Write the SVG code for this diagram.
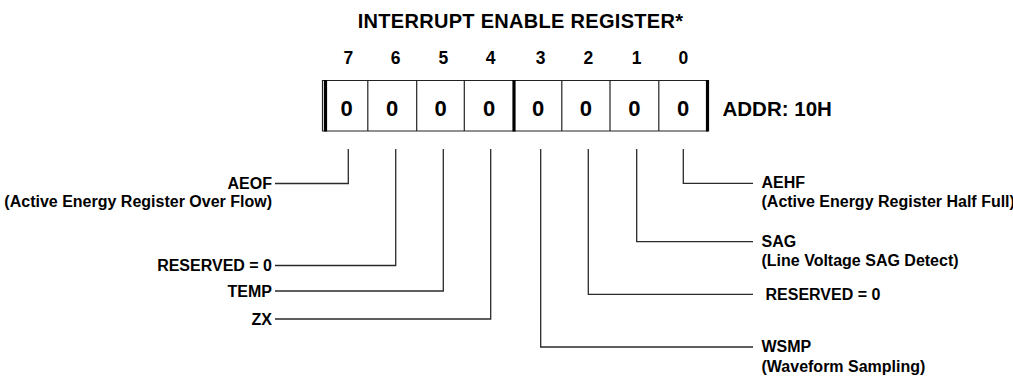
<svg xmlns="http://www.w3.org/2000/svg" width="1013" height="377" viewBox="0 0 1013 377">
<style>
text{font-family:"Liberation Sans",Arial,sans-serif;font-weight:bold;fill:#000}
.t{font-size:20px;letter-spacing:0.3px}
.bit{font-size:17.5px;text-anchor:middle}
.val{font-size:22px;text-anchor:middle}
.lbl{font-size:16px}
.r{text-anchor:end}
.c{fill:none;stroke:#2a2a2a;stroke-width:1.3}
.thin{stroke:#222;stroke-width:1.2;fill:none}
.thick{stroke:#000;stroke-width:3.2;fill:none}
</style>
<rect width="1013" height="377" fill="#fff"/>
<text class="t" x="520.5" y="28" text-anchor="middle">INTERRUPT ENABLE REGISTER*</text>
<g id="register">
<text class="bit" x="348.3" y="63.5">7</text>
<text class="bit" x="395.7" y="63.5">6</text>
<text class="bit" x="443.3" y="63.5">5</text>
<text class="bit" x="490.7" y="63.5">4</text>
<text class="bit" x="540.7" y="63.5">3</text>
<text class="bit" x="588.3" y="63.5">2</text>
<text class="bit" x="636.7" y="63.5">1</text>
<text class="bit" x="683.3" y="63.5">0</text>
<line class="thin" x1="323" y1="80.5" x2="708" y2="80.5"/>
<line class="thin" x1="323" y1="131" x2="708" y2="131"/>
<line class="thin" x1="322.5" y1="80" x2="322.5" y2="131.5"/>
<line class="thick" x1="325.5" y1="80" x2="325.5" y2="131.5"/>
<line class="thin" x1="367.8" y1="80" x2="367.8" y2="131"/>
<line class="thin" x1="416.7" y1="80" x2="416.7" y2="131"/>
<line class="thin" x1="464.3" y1="80" x2="464.3" y2="131"/>
<line class="thick" x1="514" y1="80" x2="514" y2="131.5"/>
<line class="thin" x1="561.8" y1="80" x2="561.8" y2="131"/>
<line class="thin" x1="610" y1="80" x2="610" y2="131"/>
<line class="thin" x1="658.8" y1="80" x2="658.8" y2="131"/>
<line class="thick" x1="707.5" y1="80" x2="707.5" y2="131.5"/>
<text class="val" x="346.5" y="116">0</text>
<text class="val" x="392.2" y="116">0</text>
<text class="val" x="440.5" y="116">0</text>
<text class="val" x="489" y="116">0</text>
<text class="val" x="538" y="116">0</text>
<text class="val" x="585.9" y="116">0</text>
<text class="val" x="634.4" y="116">0</text>
<text class="val" x="683" y="116">0</text>
<text x="722.5" y="115.5" style="font-size:20.5px">ADDR: 10H</text>
</g>
<g id="connectors">
<polyline class="c" points="348.3,149 348.3,183.5 275,183.5"/>
<polyline class="c" points="395.7,149 395.7,265.5 275,265.5"/>
<polyline class="c" points="443.3,149 443.3,291 275,291"/>
<polyline class="c" points="490.7,149 490.7,319 275,319"/>
<polyline class="c" points="540.7,149 540.7,347 753,347"/>
<polyline class="c" points="588.3,149 588.3,294.3 753,294.3"/>
<polyline class="c" points="636.7,149 636.7,241.7 753,241.7"/>
<polyline class="c" points="683.3,149 683.3,183.3 753,183.3"/>
</g>
<g id="aeof"><text class="lbl r" x="272" y="188.5">AEOF</text><text class="lbl r" x="272" y="206.7">(Active Energy Register Over Flow)</text></g>
<g id="reserved6"><text class="lbl r" x="272" y="271">RESERVED = 0</text></g>
<g id="temp"><text class="lbl r" x="272" y="296.5">TEMP</text></g>
<g id="zx"><text class="lbl r" x="272" y="324.5">ZX</text></g>
<g id="aehf"><text class="lbl" x="761.5" y="188.3">AEHF</text><text class="lbl" x="761.5" y="206.7">(Active Energy Register Half Full)</text></g>
<g id="sag"><text class="lbl" x="761.5" y="247">SAG</text><text class="lbl" x="761.5" y="265.5">(Line Voltage SAG Detect)</text></g>
<g id="reserved2"><text class="lbl" x="765.5" y="299.8">RESERVED = 0</text></g>
<g id="wsmp"><text class="lbl" x="761.5" y="352">WSMP</text><text class="lbl" x="761.5" y="371.7">(Waveform Sampling)</text></g>
</svg>
